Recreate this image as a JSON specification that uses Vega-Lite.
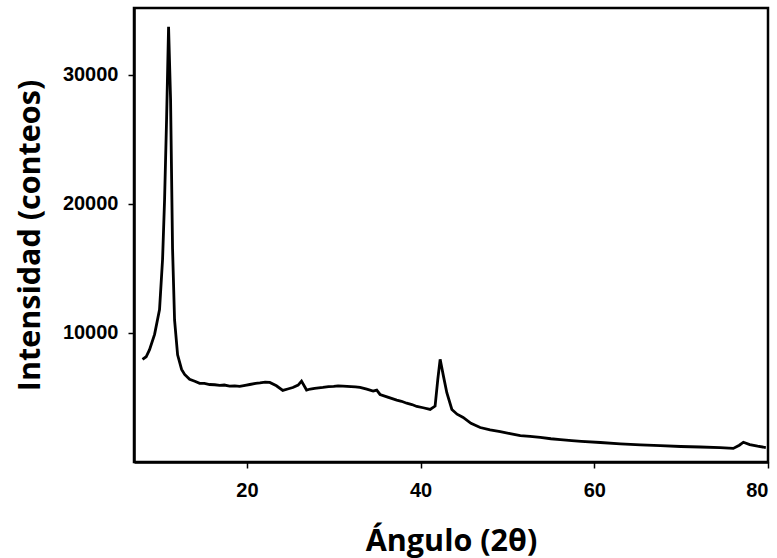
{
  "$schema": "https://vega.github.io/schema/vega-lite/v6.json",
  "width": 634,
  "height": 454,
  "autosize": {"type": "none"},
  "padding": {"left": 134, "top": 8, "right": 9, "bottom": 96},
  "background": "white",
  "config": {
    "view": {"stroke": "black", "strokeWidth": 2.5},
    "axis": {
      "domainColor": "black", "domainWidth": 2.5,
      "tickColor": "black", "tickWidth": 1.5, "tickSize": 6,
      "labelFont": "Liberation Sans", "labelFontWeight": "bold", "labelFontSize": 20, "labelColor": "black",
      "titleFont": "Open Sans", "titleFontWeight": "bold", "titleFontSize": 30.5, "titleColor": "black",
      "grid": false
    }
  },
  "data": {"values": [
    {"x": 7.98, "y": 7950}, {"x": 8.4, "y": 8150}, {"x": 8.79, "y": 8700}, {"x": 9.37, "y": 9880},
    {"x": 9.94, "y": 11800}, {"x": 10.29, "y": 15700}, {"x": 10.52, "y": 20300}, {"x": 10.75, "y": 26500},
    {"x": 10.98, "y": 33700}, {"x": 11.21, "y": 28100}, {"x": 11.44, "y": 16500}, {"x": 11.67, "y": 11000},
    {"x": 12.02, "y": 8300}, {"x": 12.48, "y": 7170}, {"x": 12.83, "y": 6780}, {"x": 13.4, "y": 6400},
    {"x": 14.0, "y": 6250}, {"x": 14.56, "y": 6090}, {"x": 15.1, "y": 6080}, {"x": 15.71, "y": 6000},
    {"x": 16.3, "y": 5980}, {"x": 16.87, "y": 5930}, {"x": 17.4, "y": 5960}, {"x": 18.0, "y": 5880},
    {"x": 18.6, "y": 5900}, {"x": 19.17, "y": 5850}, {"x": 19.8, "y": 5940}, {"x": 20.33, "y": 6000},
    {"x": 21.0, "y": 6080}, {"x": 21.5, "y": 6120}, {"x": 22.1, "y": 6180}, {"x": 22.63, "y": 6160},
    {"x": 23.4, "y": 5900}, {"x": 24.13, "y": 5540}, {"x": 24.7, "y": 5650}, {"x": 25.29, "y": 5770},
    {"x": 25.9, "y": 5950}, {"x": 26.29, "y": 6260}, {"x": 26.87, "y": 5570}, {"x": 27.3, "y": 5650},
    {"x": 27.8, "y": 5700}, {"x": 28.75, "y": 5770}, {"x": 29.4, "y": 5830}, {"x": 30.0, "y": 5850},
    {"x": 30.5, "y": 5900}, {"x": 31.06, "y": 5880}, {"x": 32.0, "y": 5840}, {"x": 32.5, "y": 5820},
    {"x": 33.02, "y": 5770}, {"x": 33.8, "y": 5640}, {"x": 34.53, "y": 5490}, {"x": 34.95, "y": 5570},
    {"x": 35.33, "y": 5230}, {"x": 36.3, "y": 5000}, {"x": 37.25, "y": 4790}, {"x": 37.8, "y": 4700},
    {"x": 38.4, "y": 4550}, {"x": 39.0, "y": 4450}, {"x": 39.56, "y": 4300}, {"x": 40.3, "y": 4200},
    {"x": 41.1, "y": 4070}, {"x": 41.67, "y": 4330}, {"x": 41.98, "y": 6400}, {"x": 42.25, "y": 7950},
    {"x": 42.63, "y": 6650}, {"x": 43.02, "y": 5360}, {"x": 43.6, "y": 4070}, {"x": 44.2, "y": 3700},
    {"x": 44.9, "y": 3450}, {"x": 45.8, "y": 3000}, {"x": 46.86, "y": 2670}, {"x": 48.0, "y": 2480},
    {"x": 49.17, "y": 2360}, {"x": 50.3, "y": 2200}, {"x": 51.48, "y": 2050}, {"x": 52.6, "y": 1990},
    {"x": 53.78, "y": 1900}, {"x": 55.0, "y": 1800}, {"x": 56.09, "y": 1740}, {"x": 57.4, "y": 1660},
    {"x": 58.5, "y": 1600}, {"x": 60.71, "y": 1510}, {"x": 63.0, "y": 1410}, {"x": 65.32, "y": 1320},
    {"x": 67.6, "y": 1260}, {"x": 69.94, "y": 1200}, {"x": 72.2, "y": 1160}, {"x": 74.48, "y": 1120},
    {"x": 76.0, "y": 1050}, {"x": 76.7, "y": 1300}, {"x": 77.17, "y": 1530}, {"x": 77.9, "y": 1350},
    {"x": 78.8, "y": 1220}, {"x": 79.75, "y": 1120}
  ]},
  "mark": {"type": "line", "color": "black", "strokeWidth": 2.8, "clip": true},
  "encoding": {
    "x": {
      "field": "x", "type": "quantitative",
      "scale": {"domain": [7, 80], "nice": false, "zero": false},
      "axis": {"values": [20, 40, 60, 80], "format": "d", "title": "Ángulo (2θ)", "labelPadding": 12, "titlePadding": 26}
    },
    "y": {
      "field": "y", "type": "quantitative",
      "scale": {"domain": [0, 35150], "nice": false},
      "axis": {"values": [10000, 20000, 30000], "format": "d", "title": "Intensidad (conteos)", "labelPadding": 10, "titlePadding": 17}
    }
  }
}
